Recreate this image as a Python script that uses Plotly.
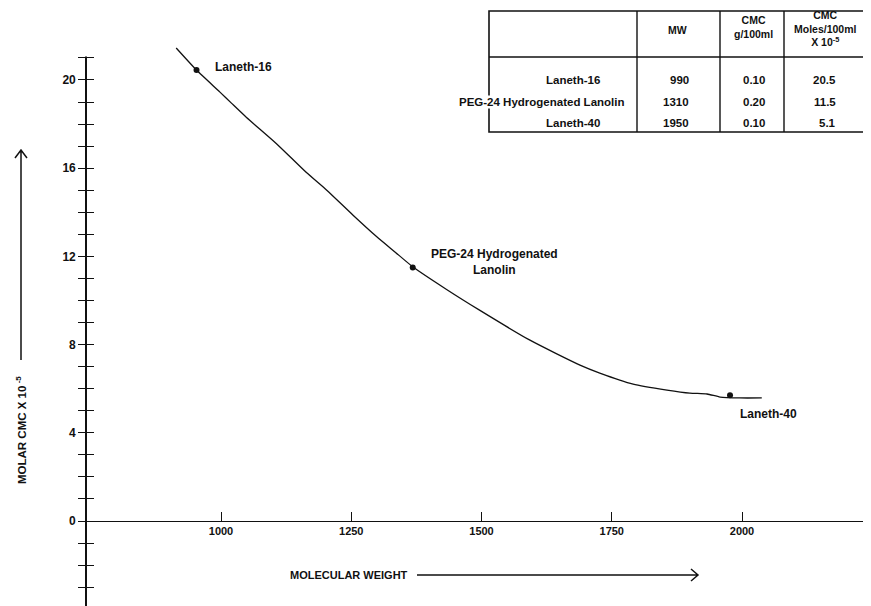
import plotly.graph_objects as go

# ---------------- data ----------------
curve_mw = [914, 953, 998, 1020, 1049, 1107, 1164, 1203, 1253, 1299, 1335, 1368,
            1433, 1497, 1593, 1689, 1727, 1791, 1856, 1900, 1933, 1958, 1996, 2038]
curve_cmc = [21.45, 20.45, 19.45, 18.95, 18.3, 17.1, 15.8, 15.0, 13.88, 12.89, 12.18, 11.53,
             10.5, 9.55, 8.2, 7.07, 6.71, 6.21, 5.94, 5.80, 5.76, 5.62, 5.58, 5.58]

point_mw = [953, 1368, 1977]
point_cmc = [20.45, 11.5, 5.7]
point_labels = ["Laneth-16", "PEG-24 Hydrogenated<br>Lanolin", "Laneth-40"]

x_tickvals = [1000, 1250, 1500, 1750, 2000]
y_tickvals = list(range(-3, 22))
y_labelled = [0, 4, 8, 12, 16, 20]

table_names = ["Laneth-16", "PEG-24 Hydrogenated Lanolin", "Laneth-40"]
table_mw = ["990", "1310", "1950"]
table_cmc_g = ["0.10", "0.20", "0.10"]
table_cmc_mol = ["20.5", "11.5", "5.1"]
table_headers = ["MW", "CMC<br>g/100ml", "CMC<br>Moles/100ml<br>X 10<sup>-5</sup>"]

# ---------------- layout geometry ----------------
# The page body has an 8px margin, so the figure is sized/offset to compensate.
OFF = 8
W, H = 871 - OFF, 606 - OFF
L, R, T, B = 87 - OFF, 0, 45 - OFF, 0
PW, PH = W - L - R, H - T - B


def fx(p):  # page pixel x -> paper fraction
    return (p - OFF - L) / PW


def fy(p):  # page pixel y -> paper fraction
    return (H - B - (p - OFF)) / PH


FONT = "Liberation Sans, Arial, Helvetica, sans-serif"
BLACK = "#111111"

y_range = [-3.855, 21.587]
x_range = [742.8, 2247.6]

fig = go.Figure()

fig.add_trace(go.Scatter(
    x=curve_mw, y=curve_cmc, mode="lines",
    line=dict(color=BLACK, width=1.3, shape="spline", smoothing=0.6),
    hoverinfo="skip", showlegend=False))

fig.add_trace(go.Scatter(
    x=point_mw, y=point_cmc, mode="markers",
    marker=dict(color=BLACK, size=6), showlegend=False))

# dummy trace for the overlay axis (right-side tick halves)
fig.add_trace(go.Scatter(x=[None], y=[None], yaxis="y2", showlegend=False,
                         hoverinfo="skip"))

fig.update_layout(
    width=W, height=H,
    margin=dict(l=L, r=R, t=T, b=B, autoexpand=False),
    paper_bgcolor="white", plot_bgcolor="white",
    font=dict(family=FONT, color=BLACK, size=12, weight="bold"),
    xaxis=dict(range=x_range, anchor="free",
               position=(0 - y_range[0]) / (y_range[1] - y_range[0]),
               showline=True, linecolor=BLACK, linewidth=1.3,
               ticks="inside", ticklen=9, tickwidth=1.3, tickcolor=BLACK,
               tickvals=x_tickvals, ticktext=[str(v) for v in x_tickvals],
               tickfont=dict(size=11, family=FONT, weight="bold"),
               showgrid=False, zeroline=False),
    yaxis=dict(range=y_range, showline=True, linecolor=BLACK, linewidth=1.6,
               ticks="outside", ticklen=7, tickwidth=1.3, tickcolor=BLACK,
               tickvals=y_labelled, ticktext=[str(v) for v in y_labelled],
               tickfont=dict(size=12, family=FONT, weight="bold"),
               minor=dict(tickvals=[v for v in y_tickvals if v not in y_labelled],
                          ticks="outside", ticklen=7, tickwidth=1.3,
                          tickcolor=BLACK, showgrid=False),
               showgrid=False, zeroline=False),
    yaxis2=dict(range=y_range, overlaying="y", side="left", anchor="x",
                showline=False, ticks="inside", ticklen=7, tickwidth=1.3,
                tickcolor=BLACK, tickvals=y_tickvals, showticklabels=False,
                showgrid=False, zeroline=False),
    showlegend=False,
)

annotations = []
shapes = []

# hide the top stub of the y axis line (axis ends just above the 21 tick)
shapes.append(dict(type="rect", xref="paper", yref="paper",
                   x0=fx(80), x1=fx(95), y0=fy(56.5), y1=fy(38),
                   fillcolor="white", line=dict(width=0), layer="above"))

# point labels
label_pos = [(213, 67, "left"), (494, 262, "center"), (738, 414, "left")]
for (lx, ly, al), txt in zip(label_pos, point_labels):
    annotations.append(dict(xref="paper", yref="paper", x=fx(lx), y=fy(ly),
                            text=txt, showarrow=False, xanchor=al,
                            yanchor="middle", align="center",
                            font=dict(size=12, family=FONT, weight="bold")))

# axis titles
annotations.append(dict(xref="paper", yref="paper", x=fx(288), y=fy(575),
                        text="MOLECULAR WEIGHT", showarrow=False,
                        xanchor="left", yanchor="middle",
                        font=dict(size=11, family=FONT, weight="bold")))
annotations.append(dict(xref="paper", yref="paper", x=fx(21), y=fy(430),
                        text="MOLAR CMC X 10<sup> -5</sup>", showarrow=False,
                        textangle=-90, xanchor="center", yanchor="middle",
                        font=dict(size=11.5, family=FONT, weight="bold")))

# arrows
shapes.append(dict(type="path", xref="paper", yref="paper",
                   path=f"M {fx(417)} {fy(575)} L {fx(698)} {fy(575)} "
                        f"M {fx(691)} {fy(569)} L {fx(698)} {fy(575)} L {fx(691)} {fy(581)}",
                   line=dict(color=BLACK, width=1.5)))
shapes.append(dict(type="path", xref="paper", yref="paper",
                   path=f"M {fx(21)} {fy(360)} L {fx(21)} {fy(150)} "
                        f"M {fx(15)} {fy(158)} L {fx(21)} {fy(150)} L {fx(27)} {fy(158)}",
                   line=dict(color=BLACK, width=1.5)))

# table
tx0, tx1, ty0, ty1 = 489, 867, 11, 132
col_lines = [637, 720, 784]
head_line = 57
shapes.append(dict(type="rect", xref="paper", yref="paper",
                   x0=fx(tx0), x1=fx(tx1), y0=fy(ty1), y1=fy(ty0),
                   line=dict(color=BLACK, width=1.6), layer="below"))
for cx in col_lines:
    shapes.append(dict(type="line", xref="paper", yref="paper",
                       x0=fx(cx), x1=fx(cx), y0=fy(ty1), y1=fy(ty0),
                       line=dict(color=BLACK, width=1.4), layer="below"))
shapes.append(dict(type="line", xref="paper", yref="paper",
                   x0=fx(tx0), x1=fx(tx1), y0=fy(head_line), y1=fy(head_line),
                   line=dict(color=BLACK, width=1.4), layer="below"))

head_x = [677, 753, 825]
head_y = [30, 27, 29]
for hx, hy, txt in zip(head_x, head_y, table_headers):
    annotations.append(dict(xref="paper", yref="paper", x=fx(hx), y=fy(hy),
                            text=txt, showarrow=False, xanchor="center",
                            yanchor="middle", align="center",
                            font=dict(size=10.5, family=FONT, weight="bold")))

row_y = [80, 102, 123]
name_x = [573, 542, 573]
for i, ry in enumerate(row_y):
    annotations.append(dict(xref="paper", yref="paper", x=fx(name_x[i]), y=fy(ry),
                            text=table_names[i], showarrow=False,
                            xanchor="center", yanchor="middle",
                            bgcolor="white", borderpad=0,
                            font=dict(size=11.5, family=FONT, weight="bold")))
    annotations.append(dict(xref="paper", yref="paper", x=fx(691), y=fy(ry),
                            text=table_mw[i], showarrow=False,
                            xanchor="right", yanchor="middle",
                            font=dict(size=11.5, family=FONT, weight="bold")))
    annotations.append(dict(xref="paper", yref="paper", x=fx(754), y=fy(ry),
                            text=table_cmc_g[i], showarrow=False,
                            xanchor="center", yanchor="middle",
                            font=dict(size=11.5, family=FONT, weight="bold")))
    annotations.append(dict(xref="paper", yref="paper", x=fx(838), y=fy(ry),
                            text=table_cmc_mol[i], showarrow=False,
                            xanchor="right", yanchor="middle",
                            font=dict(size=11.5, family=FONT, weight="bold")))

fig.update_layout(annotations=annotations, shapes=shapes)

fig.write_html("out.html")
